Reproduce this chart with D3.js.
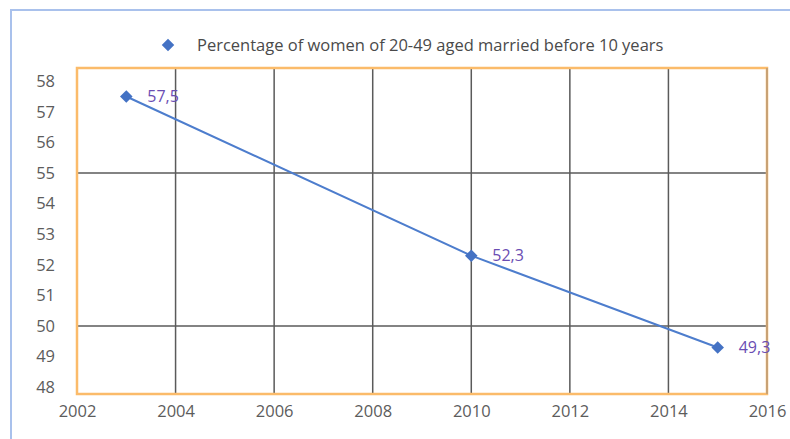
<!DOCTYPE html>
<html>
<head>
<meta charset="utf-8">
<script src="https://cdn.jsdelivr.net/npm/d3@7"></script>
<style>
  body { margin: 0; background: #fff; }
  svg text { font-family: "Open Sans", sans-serif; }
</style>
</head>
<body>
<svg id="chart" width="790" height="439"></svg>
<script>
const years = [2003, 2010, 2015];
const values = [57.5, 52.3, 49.3];
const valueLabels = ["57,5", "52,3", "49,3"];
const xTicks = [2002, 2004, 2006, 2008, 2010, 2012, 2014, 2016];
const yTicks = [48, 49, 50, 51, 52, 53, 54, 55, 56, 57, 58];
const yGrid = [50, 55];
const seriesName = "Percentage of women of 20-49 aged married before 10 years";

const [width, height] = [790, 439];
const margin = {left: 77, right: 23, top: 68, bottom: 45};

const svg = d3.select("#chart");

// outer frame, cut off at the right and bottom
svg.append("rect")
    .attr("x", 11).attr("y", 10)
    .attr("width", width).attr("height", height)
    .attr("fill", "none")
    .attr("stroke", "#a9c1ec")
    .attr("stroke-width", 2);

const x = d3.scaleLinear()
    .domain([2002, 2016])
    .range([margin.left, width - margin.right]);

const y = d3.scaleLinear()
    .domain([47.78, 58.43])
    .range([height - margin.bottom, margin.top]);

// grid
svg.append("g")
    .selectAll("line")
    .data(xTicks.slice(1, -1))
    .join("line")
    .attr("x1", d => x(d)).attr("x2", d => x(d))
    .attr("y1", y.range()[1]).attr("y2", y.range()[0])
    .attr("stroke", "#5a5a5a")
    .attr("stroke-width", 1.5);

svg.append("g")
    .selectAll("line")
    .data(yGrid)
    .join("line")
    .attr("x1", x.range()[0]).attr("x2", x.range()[1])
    .attr("y1", d => y(d)).attr("y2", d => y(d))
    .attr("stroke", "#5a5a5a")
    .attr("stroke-width", 1.5);

// plot border
svg.append("rect")
    .attr("x", x.range()[0]).attr("y", y.range()[1])
    .attr("width", x.range()[1] - x.range()[0])
    .attr("height", y.range()[0] - y.range()[1])
    .attr("fill", "none")
    .attr("stroke", "#fbbb6a")
    .attr("stroke-width", 2.5);

svg.append("line")
    .attr("x1", x(2016)).attr("x2", x(2016))
    .attr("y1", y.range()[1]).attr("y2", y.range()[0])
    .attr("stroke", "#b89a78")
    .attr("stroke-width", 1.5);

// axes
const xAxis = svg.append("g")
    .attr("transform", `translate(0,${height - margin.bottom})`)
    .call(d3.axisBottom(x).tickValues(xTicks).tickFormat(d3.format("d")).tickSize(0).tickPadding(11));

const yAxis = svg.append("g")
    .attr("transform", `translate(${margin.left},0)`)
    .call(d3.axisLeft(y).tickValues(yTicks).tickSize(0).tickPadding(22));

[xAxis, yAxis].forEach(a => {
    a.select(".domain").remove();
    a.selectAll("text")
        .attr("fill", "#5c5c5c")
        .attr("font-size", 16.5);
});

// line
const pts = years.map((yr, i) => ({year: yr, value: values[i], label: valueLabels[i]}));

svg.append("path")
    .datum(pts)
    .attr("fill", "none")
    .attr("stroke", "#4d7dcd")
    .attr("stroke-width", 2)
    .attr("d", d3.line().x(d => x(d.year)).y(d => y(d.value)));

const diamond = d3.symbol().type(d3.symbolDiamond2).size(100);

svg.append("g")
    .selectAll("path")
    .data(pts)
    .join("path")
    .attr("d", diamond)
    .attr("transform", d => `translate(${x(d.year)},${y(d.value)})`)
    .attr("fill", "#4472c4");

svg.append("g")
    .selectAll("text")
    .data(pts)
    .join("text")
    .attr("x", d => x(d.year) + 21)
    .attr("y", d => y(d.value))
    .attr("dy", "0.35em")
    .attr("fill", "#6a4db3")
    .attr("font-size", 16)
    .text(d => d.label);

// legend
svg.append("path")
    .attr("d", diamond)
    .attr("transform", "translate(168,45)")
    .attr("fill", "#4472c4");

svg.append("text")
    .attr("x", 197)
    .attr("y", 45)
    .attr("dy", "0.35em")
    .attr("fill", "#4a4a4a")
    .attr("font-size", 16.5)
    .text(seriesName);
</script>
</body>
</html>
